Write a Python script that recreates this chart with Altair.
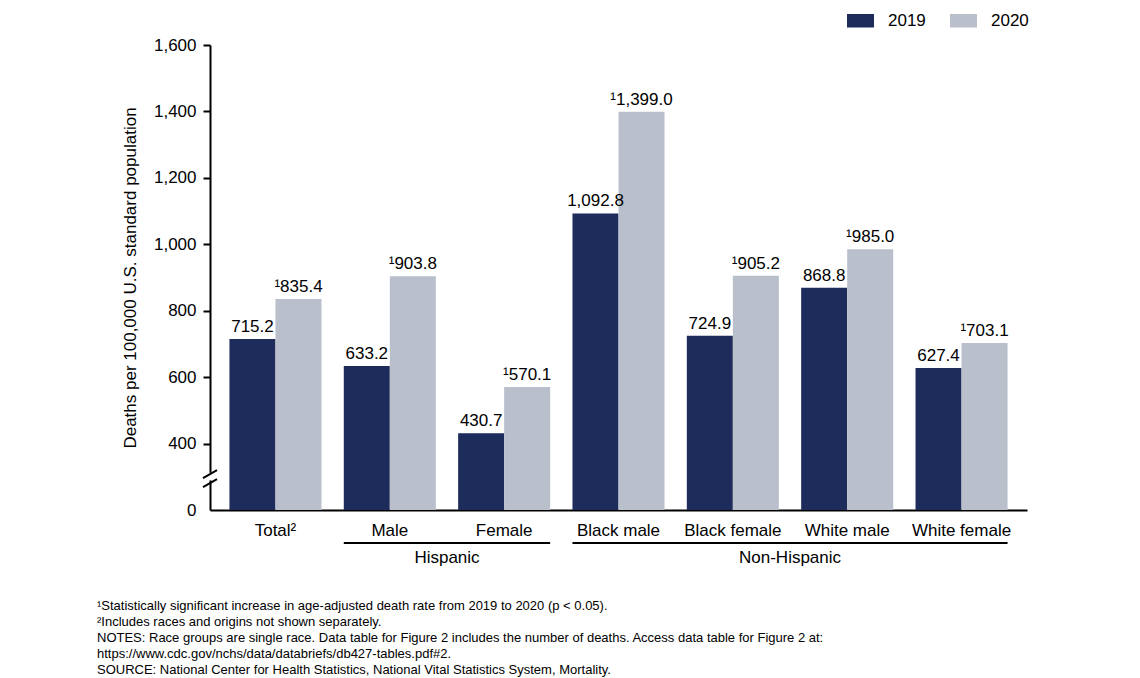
import altair as alt
import pandas as pd

categories = ["Total²", "Male", "Female", "Black male", "Black female", "White male", "White female"]
years = ["2019", "2020"]
values_2019 = [715.2, 633.2, 430.7, 1092.8, 724.9, 868.8, 627.4]
values_2020 = [835.4, 903.8, 570.1, 1399.0, 905.2, 985.0, 703.1]
significant_2020 = [True, True, True, True, True, True, True]
y_ticks = [200, 400, 600, 800, 1000, 1200, 1400, 1600]
groups = ["Hispanic", "Non-Hispanic"]
group_start = ["Male", "Black male"]
group_end = ["Female", "White female"]
group_mid_left = ["Male", "Black female"]
footnotes = [
    "¹Statistically significant increase in age-adjusted death rate from 2019 to 2020 (p < 0.05).",
    "²Includes races and origins not shown separately.",
    "NOTES: Race groups are single race. Data table for Figure 2 includes the number of deaths. Access data table for Figure 2 at:",
    "https://www.cdc.gov/nchs/data/databriefs/db427-tables.pdf#2.",
    "SOURCE: National Center for Health Statistics, National Vital Statistics System, Mortality.",
]

DARK = "#1d2c5a"
LIGHT = "#b9c0cc"
FONT = "Liberation Sans, Arial, sans-serif"
W, H = 817, 465
PAD_INNER = 0.195
PAD_OUTER = 0.17

rows = []
for i, c in enumerate(categories):
    rows.append({"category": c, "year": "2019", "value": values_2019[i],
                 "label": f"{values_2019[i]:,.1f}"})
    rows.append({"category": c, "year": "2020", "value": values_2020[i],
                 "label": ("¹" if significant_2020[i] else "") + f"{values_2020[i]:,.1f}"})
df = pd.DataFrame(rows)

gdf = pd.DataFrame({"group": groups, "start": group_start, "end": group_end, "mid": group_mid_left})

xscale = alt.Scale(domain=categories, paddingInner=PAD_INNER, paddingOuter=PAD_OUTER)
yscale = alt.Scale(domain=[200, 1600], nice=False, zero=False)
offscale = alt.Scale(domain=years, paddingInner=0, paddingOuter=0)

bars = alt.Chart(df).mark_bar().encode(
    x=alt.X("category:N", scale=xscale, sort=categories, title=None,
            axis=alt.Axis(ticks=False, labelAngle=0, labelPadding=12, labelFontSize=17,
                          labelColor="black", domainColor="black", domainWidth=2,
                          labelFont=FONT)),
    xOffset=alt.XOffset("year:N", scale=offscale),
    y=alt.Y("value:Q", scale=yscale,
            title="Deaths per 100,000 U.S. standard population",
            axis=alt.Axis(values=y_ticks, grid=False,
                          labelExpr="datum.value == 200 ? '0' : format(datum.value, ',')",
                          tickOpacity={"condition": {"test": "datum.value == 200", "value": 0}, "value": 1},
                          tickSize=7, tickWidth=2, tickColor="black",
                          domainColor="black", domainWidth=2,
                          labelFontSize=17, labelColor="black", labelPadding=7, labelFont=FONT,
                          titleFontSize=17, titleFontWeight="normal", titleColor="black",
                          titlePadding=14, titleFont=FONT)),
    y2=alt.datum(200),
    color=alt.Color("year:N", scale=alt.Scale(domain=years, range=[DARK, LIGHT]),
                    legend=alt.Legend(title=None, orient="none", direction="horizontal",
                                      legendX=637, legendY=-38, padding=0,
                                      symbolType="M-1,-0.5H1V0.5H-1Z", symbolSize=729,
                                      symbolStrokeWidth=0, labelOffset=14, columnPadding=24,
                                      labelFontSize=17, labelColor="black", labelFont=FONT)),
)

labels = alt.Chart(df).mark_text(baseline="bottom", dy=-3, fontSize=17, color="black",
                                 font=FONT).encode(
    x=alt.X("category:N", scale=xscale, sort=categories, title=None),
    xOffset=alt.XOffset("year:N", scale=offscale),
    y=alt.Y("value:Q", scale=yscale, title="Deaths per 100,000 U.S. standard population"),
    text="label:N",
)

brk = pd.DataFrame({"a": [0]})
gap = alt.Chart(brk).mark_rect(color="white").encode(
    x=alt.value(-4), x2=alt.value(4), y=alt.datum(289), y2=alt.datum(312))
slash1 = alt.Chart(brk).mark_rule(color="black", strokeWidth=2).encode(
    x=alt.value(-7), x2=alt.value(7), y=alt.datum(296), y2=alt.datum(320))
slash2 = alt.Chart(brk).mark_rule(color="black", strokeWidth=2).encode(
    x=alt.value(-7), x2=alt.value(7), y=alt.datum(269), y2=alt.datum(293))

grule = alt.Chart(gdf).mark_rule(color="black", strokeWidth=2).encode(
    x=alt.X("start:N", scale=xscale, sort=categories, bandPosition=0, title=None),
    x2=alt.X2("end:N", bandPosition=1),
    y=alt.value(H + 33),
)
step = W / (len(categories) - PAD_INNER + 2 * PAD_OUTER)
half_gap = step * PAD_INNER / 2
gtext = alt.Chart(gdf).mark_text(fontSize=17, baseline="middle", color="black", font=FONT,
                                 dx=half_gap).encode(
    x=alt.X("mid:N", scale=xscale, sort=categories, bandPosition=1, title=None),
    y=alt.value(H + 48),
    text="group:N",
)

notes = alt.Chart(brk).mark_text(align="left", baseline="top", fontSize=13, lineHeight=16,
                                 color="black", font=FONT).encode(
    x=alt.value(-113), y=alt.value(555), text=alt.value(footnotes))

chart = alt.layer(bars, labels, gap, slash1, slash2, grule, gtext, notes).properties(
    width=W, height=H,
    autosize=alt.AutoSizeParams(type="none"),
    padding={"left": 202, "top": 37, "right": 100, "bottom": 180},
).configure_view(stroke=None)

chart.save("out.html", embed_options={"renderer": "svg", "actions": False})
